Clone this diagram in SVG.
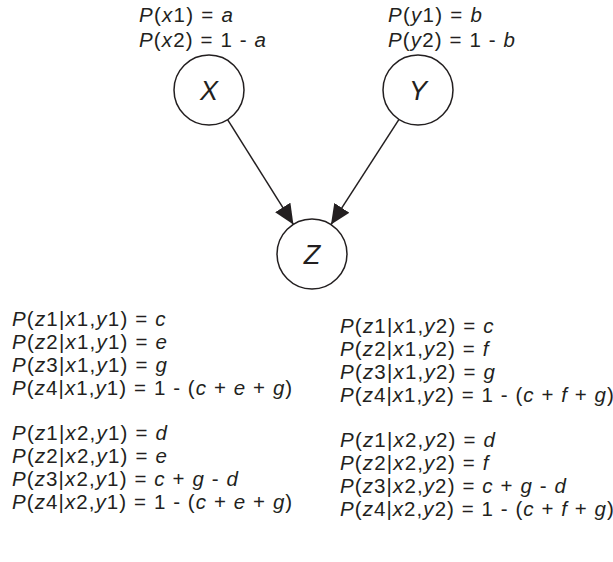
<svg xmlns="http://www.w3.org/2000/svg" width="613" height="562" viewBox="0 0 613 562">
<defs>
<style>
text{font-family:"Liberation Sans",Arial,sans-serif;font-size:20.5px;fill:#231f20}
.i{font-style:italic}
.node circle{fill:#fff;stroke:#231f20;stroke-width:1.5}
.node text{font-size:27px;font-style:italic;text-anchor:middle}
.edge{stroke:#231f20;stroke-width:1.5;fill:none}
</style>
<marker id="ah" markerUnits="userSpaceOnUse" markerWidth="20" markerHeight="18" refX="20" refY="9" orient="auto">
<path d="M0,0 L20,9 L0,18 z" fill="#231f20"/>
</marker>
</defs>
<rect width="613" height="562" fill="#fff"/>
<g id="connectors">
<line class="edge" x1="227.6" y1="119.6" x2="293.4" y2="224.4" marker-end="url(#ah)"/>
<line class="edge" x1="399" y1="119.4" x2="331" y2="224.6" marker-end="url(#ah)"/>
</g>
<g id="node-X" class="node">
<circle cx="209" cy="90" r="35"/>
<text x="209" y="100">X</text>
</g>
<g id="node-Y" class="node">
<circle cx="418" cy="90" r="35"/>
<text x="418" y="100">Y</text>
</g>
<g id="node-Z" class="node">
<circle cx="312" cy="254" r="35"/>
<text x="312" y="264">Z</text>
</g>
<g id="prior-X">
<text x="139" y="22" textLength="94" lengthAdjust="spacing"><tspan class="i">P</tspan>(<tspan class="i">x</tspan>1) = <tspan class="i">a</tspan></text>
<text x="139" y="47" textLength="127" lengthAdjust="spacing"><tspan class="i">P</tspan>(<tspan class="i">x</tspan>2) = 1 - <tspan class="i">a</tspan></text>
</g>
<g id="prior-Y">
<text x="388" y="22" textLength="94" lengthAdjust="spacing"><tspan class="i">P</tspan>(<tspan class="i">y</tspan>1) = <tspan class="i">b</tspan></text>
<text x="388" y="47" textLength="127" lengthAdjust="spacing"><tspan class="i">P</tspan>(<tspan class="i">y</tspan>2) = 1 - <tspan class="i">b</tspan></text>
</g>
<g id="cpt-x1y1">
<text x="12" y="326" textLength="153.6" lengthAdjust="spacing"><tspan class="i">P</tspan>(<tspan class="i">z</tspan>1|<tspan class="i">x</tspan>1,<tspan class="i">y</tspan>1) = <tspan class="i">c</tspan></text>
<text x="12" y="349" textLength="154.9" lengthAdjust="spacing"><tspan class="i">P</tspan>(<tspan class="i">z</tspan>2|<tspan class="i">x</tspan>1,<tspan class="i">y</tspan>1) = <tspan class="i">e</tspan></text>
<text x="12" y="372" textLength="154.9" lengthAdjust="spacing"><tspan class="i">P</tspan>(<tspan class="i">z</tspan>3|<tspan class="i">x</tspan>1,<tspan class="i">y</tspan>1) = <tspan class="i">g</tspan></text>
<text x="12" y="395" textLength="280.2" lengthAdjust="spacing"><tspan class="i">P</tspan>(<tspan class="i">z</tspan>4|<tspan class="i">x</tspan>1,<tspan class="i">y</tspan>1) = 1 - (<tspan class="i">c</tspan> + <tspan class="i">e</tspan> + <tspan class="i">g</tspan>)</text>
</g>
<g id="cpt-x2y1">
<text x="12" y="440" textLength="154.9" lengthAdjust="spacing"><tspan class="i">P</tspan>(<tspan class="i">z</tspan>1|<tspan class="i">x</tspan>2,<tspan class="i">y</tspan>1) = <tspan class="i">d</tspan></text>
<text x="12" y="463" textLength="154.9" lengthAdjust="spacing"><tspan class="i">P</tspan>(<tspan class="i">z</tspan>2|<tspan class="i">x</tspan>2,<tspan class="i">y</tspan>1) = <tspan class="i">e</tspan></text>
<text x="12" y="486" textLength="225.9" lengthAdjust="spacing"><tspan class="i">P</tspan>(<tspan class="i">z</tspan>3|<tspan class="i">x</tspan>2,<tspan class="i">y</tspan>1) = <tspan class="i">c</tspan> + <tspan class="i">g</tspan> - <tspan class="i">d</tspan></text>
<text x="12" y="509" textLength="280.2" lengthAdjust="spacing"><tspan class="i">P</tspan>(<tspan class="i">z</tspan>4|<tspan class="i">x</tspan>2,<tspan class="i">y</tspan>1) = 1 - (<tspan class="i">c</tspan> + <tspan class="i">e</tspan> + <tspan class="i">g</tspan>)</text>
</g>
<g id="cpt-x1y2">
<text x="340" y="333" textLength="153.6" lengthAdjust="spacing"><tspan class="i">P</tspan>(<tspan class="i">z</tspan>1|<tspan class="i">x</tspan>1,<tspan class="i">y</tspan>2) = <tspan class="i">c</tspan></text>
<text x="340" y="356" textLength="148.5" lengthAdjust="spacing"><tspan class="i">P</tspan>(<tspan class="i">z</tspan>2|<tspan class="i">x</tspan>1,<tspan class="i">y</tspan>2) = <tspan class="i">f</tspan></text>
<text x="340" y="379" textLength="154.9" lengthAdjust="spacing"><tspan class="i">P</tspan>(<tspan class="i">z</tspan>3|<tspan class="i">x</tspan>1,<tspan class="i">y</tspan>2) = <tspan class="i">g</tspan></text>
<text x="340" y="402" textLength="273.8" lengthAdjust="spacing"><tspan class="i">P</tspan>(<tspan class="i">z</tspan>4|<tspan class="i">x</tspan>1,<tspan class="i">y</tspan>2) = 1 - (<tspan class="i">c</tspan> + <tspan class="i">f</tspan> + <tspan class="i">g</tspan>)</text>
</g>
<g id="cpt-x2y2">
<text x="340" y="447" textLength="154.9" lengthAdjust="spacing"><tspan class="i">P</tspan>(<tspan class="i">z</tspan>1|<tspan class="i">x</tspan>2,<tspan class="i">y</tspan>2) = <tspan class="i">d</tspan></text>
<text x="340" y="470" textLength="148.5" lengthAdjust="spacing"><tspan class="i">P</tspan>(<tspan class="i">z</tspan>2|<tspan class="i">x</tspan>2,<tspan class="i">y</tspan>2) = <tspan class="i">f</tspan></text>
<text x="340" y="493" textLength="225.9" lengthAdjust="spacing"><tspan class="i">P</tspan>(<tspan class="i">z</tspan>3|<tspan class="i">x</tspan>2,<tspan class="i">y</tspan>2) = <tspan class="i">c</tspan> + <tspan class="i">g</tspan> - <tspan class="i">d</tspan></text>
<text x="340" y="516" textLength="273.8" lengthAdjust="spacing"><tspan class="i">P</tspan>(<tspan class="i">z</tspan>4|<tspan class="i">x</tspan>2,<tspan class="i">y</tspan>2) = 1 - (<tspan class="i">c</tspan> + <tspan class="i">f</tspan> + <tspan class="i">g</tspan>)</text>
</g>
</svg>
